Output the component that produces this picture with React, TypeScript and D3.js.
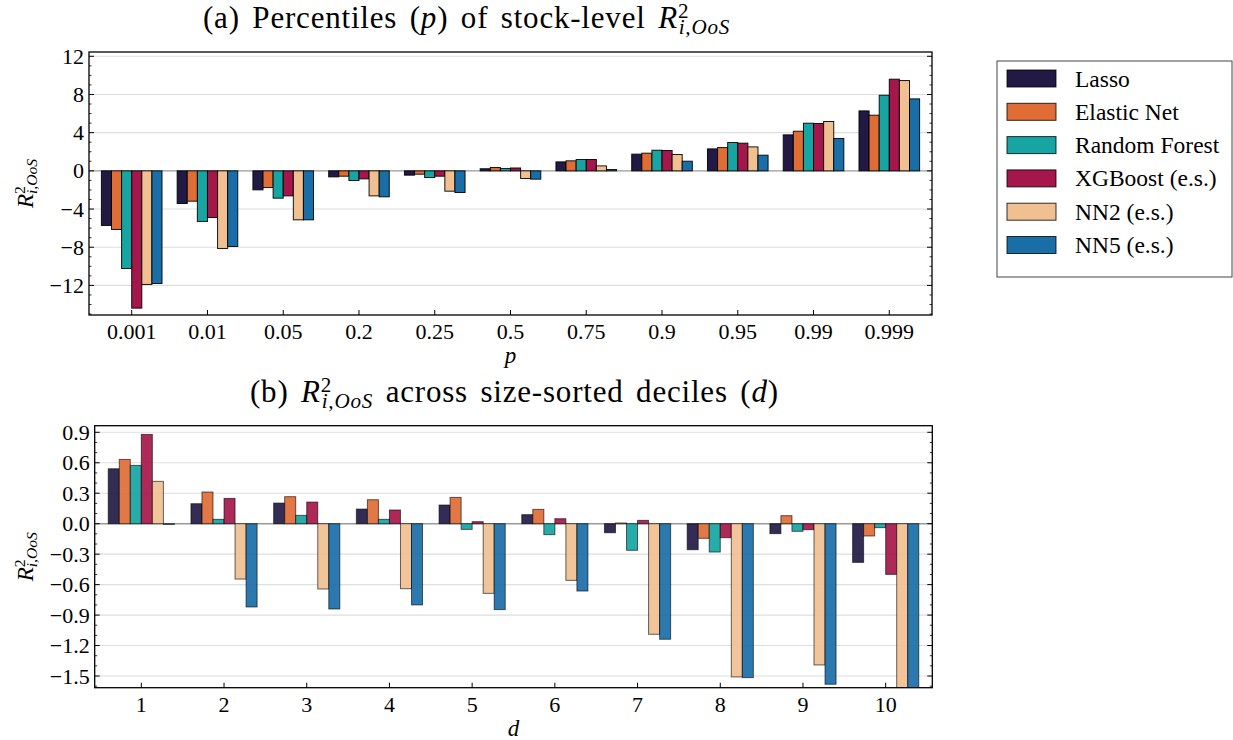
import React from 'react';
import * as d3 from 'd3';

const models = ['Lasso', 'Elastic Net', 'Random Forest', 'XGBoost (e.s.)', 'NN2 (e.s.)', 'NN5 (e.s.)'];
const colors = ['#221a45', '#e06d35', '#16a5a3', '#a5174a', '#f0c090', '#1a6ea8'];

// panel (a): percentiles
const pLabels = ['0.001', '0.01', '0.05', '0.2', '0.25', '0.5', '0.75', '0.9', '0.95', '0.99', '0.999'];
const lassoP = [-5.72, -3.42, -1.99, -0.63, -0.45, 0.22, 0.94, 1.75, 2.3, 3.77, 6.28];
const enetP = [-6.14, -3.18, -1.75, -0.56, -0.35, 0.35, 1.05, 1.85, 2.44, 4.15, 5.83];
const rfP = [-10.23, -5.3, -2.86, -1.01, -0.7, 0.25, 1.19, 2.16, 2.97, 4.99, 7.92];
const xgbP = [-14.38, -4.89, -2.62, -0.84, -0.56, 0.3, 1.19, 2.13, 2.9, 4.96, 9.6];
const nn2P = [-11.9, -8.13, -5.13, -2.62, -2.13, -0.8, 0.52, 1.71, 2.51, 5.17, 9.46];
const nn5P = [-11.8, -7.92, -5.13, -2.72, -2.27, -0.87, 0.14, 1.01, 1.64, 3.39, 7.54];
const pTicks = [-12, -8, -4, 0, 4, 8, 12];

// panel (b): size deciles
const dLabels = ['1', '2', '3', '4', '5', '6', '7', '8', '9', '10'];
const lassoD = [0.541, 0.197, 0.203, 0.144, 0.184, 0.089, -0.089, -0.256, -0.098, -0.381];
const enetD = [0.633, 0.312, 0.266, 0.236, 0.259, 0.141, 0.007, -0.144, 0.079, -0.121];
const rfD = [0.574, 0.043, 0.082, 0.043, -0.056, -0.108, -0.262, -0.279, -0.075, -0.039];
const xgbD = [0.879, 0.249, 0.213, 0.135, 0.02, 0.049, 0.033, -0.138, -0.059, -0.499];
const nn2D = [0.417, -0.545, -0.643, -0.64, -0.686, -0.558, -1.089, -1.509, -1.391, -1.75];
const nn5D = [-0.007, -0.82, -0.84, -0.8, -0.846, -0.663, -1.138, -1.516, -1.581, -1.7];
const dTicks = [-1.5, -1.2, -0.9, -0.6, -0.3, 0, 0.3, 0.6, 0.9];

const FONT = '"Liberation Serif", "DejaVu Serif", serif';
const TICK_FS = 22;
const TITLE_FS = 31;

const fmtMinus = (s: string) => s.replace('-', '\u2212');

// R^2_{i,OoS} as tspans (sup and sub stacked); leaves the baseline shifted by +0.19*size
const RMath = ({ size }: { size: number }) => {
  const s = size * 0.68;
  return (
    <>
      <tspan fontStyle="italic">R</tspan>
      <tspan fontSize={s} dy={-size * 0.33}>2</tspan>
      <tspan fontSize={s} fontStyle="italic" dx={-s * 0.5} dy={size * 0.52}>i,OoS</tspan>
    </>
  );
};

type PanelProps = {
  id: string;
  labels: string[];
  series: number[][];
  left: number; right: number; top: number; bottom: number;
  yDomain: [number, number];
  yTicks: number[];
  minorStep: number;
  fmt: (v: number) => string;
  xLabel: string;
  faded: boolean;
};

const Panel = (p: PanelProps) => {
  const n = p.labels.length;
  const pad = 0.5637;
  const x = d3.scaleLinear().domain([-pad, n - 1 + pad]).range([p.left, p.right]);
  const y = d3.scaleLinear().domain(p.yDomain).range([p.bottom, p.top]);
  const k = p.series.length;
  const w = 0.8 / k;
  const bw = x(w) - x(0);
  const minor = d3.range(Math.ceil(p.yDomain[0] / p.minorStep), Math.floor(p.yDomain[1] / p.minorStep) + 1)
    .map(i => i * p.minorStep)
    .filter(v => !p.yTicks.some(t => Math.abs(t - v) < 1e-6));
  const midY = (p.top + p.bottom) / 2;
  return (
    <g>
      <defs>
        <clipPath id={'clip' + p.id}>
          <rect x={p.left} y={p.top} width={p.right - p.left} height={p.bottom - p.top} />
        </clipPath>
      </defs>
      {p.yTicks.map(t => (
        <line key={'g' + t} x1={p.left} x2={p.right} y1={y(t)} y2={y(t)}
          stroke={t === 0 ? '#9a9a9a' : '#dedede'} strokeWidth={t === 0 ? 1.4 : 1.1} />
      ))}
      <g clipPath={`url(#clip${p.id})`}>
        {p.series.map((vals, si) => vals.map((v, ci) => {
          const x0 = x(ci + (si - k / 2) * w);
          const y0 = y(Math.max(0, v));
          const y1 = y(Math.min(0, v));
          return (
            <rect key={si + '-' + ci} x={x0} y={y0} width={bw} height={Math.max(0.01, y1 - y0)}
              fill={colors[si]} fillOpacity={p.faded ? 0.92 : 1}
              stroke="#000" strokeOpacity={p.faded ? 0.6 : 0.9} strokeWidth={1} />
          );
        }))}
      </g>
      <rect x={p.left} y={p.top} width={p.right - p.left} height={p.bottom - p.top}
        fill="none" stroke="#000" strokeWidth={1.3} />
      {p.labels.map((l, i) => (
        <g key={'xt' + l}>
          <line x1={x(i)} x2={x(i)} y1={p.bottom} y2={p.bottom - 5} stroke="#000" strokeWidth={1} />
          <text x={x(i)} y={p.bottom + 24} textAnchor="middle" fontSize={TICK_FS} fontFamily={FONT}>{l}</text>
        </g>
      ))}
      {p.yTicks.map(t => (
        <g key={'yt' + t}>
          <line x1={p.left} x2={p.left + 5} y1={y(t)} y2={y(t)} stroke="#000" strokeWidth={1} />
          <line x1={p.right} x2={p.right - 5} y1={y(t)} y2={y(t)} stroke="#000" strokeWidth={1} />
          <text x={p.left - 5} y={y(t)} dy="0.34em" textAnchor="end" fontSize={TICK_FS} fontFamily={FONT}>{p.fmt(t)}</text>
        </g>
      ))}
      {minor.map(t => (
        <g key={'mt' + t}>
          <line x1={p.left} x2={p.left + 2.5} y1={y(t)} y2={y(t)} stroke="#000" strokeWidth={0.8} />
          <line x1={p.right} x2={p.right - 2.5} y1={y(t)} y2={y(t)} stroke="#000" strokeWidth={0.8} />
        </g>
      ))}
      <text x={(p.left + p.right) / 2} y={p.bottom + 48} textAnchor="middle" fontSize={23} fontStyle="italic" fontFamily={FONT}>{p.xLabel}</text>
      <g transform={`translate(33,${midY}) rotate(-90)`}>
        <text textAnchor="middle" fontFamily={FONT} fontSize={23}>
          <RMath size={23} />
        </text>
      </g>
    </g>
  );
};

const Legend = () => {
  const x0 = 997, y0 = 61;
  return (
    <g>
      <rect x={x0} y={y0} width={235} height={216} fill="#fff" stroke="#444" strokeWidth={1} />
      {models.map((m, i) => (
        <g key={m}>
          <rect x={1007} y={70 + i * 33.3} width={49} height={17} fill={colors[i]} stroke="#000" strokeOpacity={0.8} strokeWidth={1} />
          <text x={1075} y={70 + i * 33.3 + 16.5} fontSize={23.5} fontFamily={FONT}>{m}</text>
        </g>
      ))}
    </g>
  );
};

export default function App() {
  return (
    <svg width={1233} height={740} style={{ display: 'block', position: 'absolute', left: 0, top: 0, background: '#fff' }}>
      <text x={203} y={28} fontSize={TITLE_FS} fontFamily={FONT} letterSpacing={0.8} wordSpacing={4}>
        <tspan>(a) Percentiles (</tspan>
        <tspan fontStyle="italic">p</tspan>
        <tspan>) of stock-level </tspan>
        <RMath size={TITLE_FS} />
      </text>
      <Panel id="a" labels={pLabels} series={[lassoP, enetP, rfP, xgbP, nn2P, nn5P]}
        left={89} right={932} top={52} bottom={315} yDomain={[-15.1, 12.45]} yTicks={pTicks}
        minorStep={1} fmt={v => fmtMinus(String(v))} xLabel="p" faded={false} />
      <text x={250} y={402} fontSize={TITLE_FS} fontFamily={FONT} letterSpacing={0.8} wordSpacing={4}>
        <tspan>(b) </tspan>
        <RMath size={TITLE_FS} />
        <tspan dy={-TITLE_FS * 0.19}> across size-sorted deciles (</tspan>
        <tspan fontStyle="italic">d</tspan>
        <tspan>)</tspan>
      </text>
      <Panel id="b" labels={dLabels} series={[lassoD, enetD, rfD, xgbD, nn2D, nn5D]}
        left={94.7} right={932.3} top={425.7} bottom={687.7} yDomain={[-1.615, 0.965]} yTicks={dTicks}
        minorStep={0.1} fmt={v => fmtMinus(v.toFixed(1))} xLabel="d" faded={true} />
      <Legend />
    </svg>
  );
}
